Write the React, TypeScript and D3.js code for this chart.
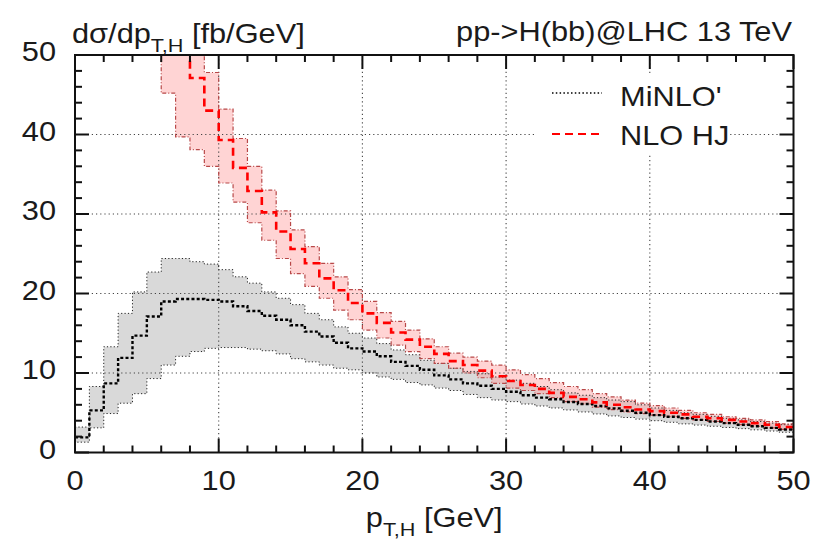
import React from "react";
import * as d3 from "d3";

// ---------- data (1 GeV bins, value = bin start) ----------
const MINLO_BIN_START = 0;
const MINLO_CENTRAL = [1.9,5.3,8.7,11.9,14.7,17.1,19.0,19.3,19.3,19.2,19.0,18.4,17.8,17.2,16.7,16.0,15.2,14.6,13.8,13.1,12.7,12.1,11.4,10.9,10.4,9.7,9.2,8.7,8.4,8.0,7.65,7.2,6.9,6.7,6.35,6.1,5.85,5.55,5.25,5.0,4.7,4.5,4.3,4.1,3.9,3.7,3.5,3.3,3.1,2.9];
const MINLO_UPPER = [3.2,8.3,13.3,17.5,20.2,22.7,24.4,24.4,24.0,23.7,23.0,22.1,21.3,20.2,19.4,18.6,17.5,16.7,15.8,15.0,14.4,13.7,12.9,12.3,11.6,11.2,10.6,10.2,9.9,9.5,9.1,8.7,8.3,7.9,7.5,7.2,6.9,6.6,6.4,6.0,5.6,5.3,5.0,4.8,4.55,4.3,4.1,3.9,3.7,3.5];
const MINLO_LOWER = [1.3,3.1,4.9,6.2,7.4,9.3,11.0,12.1,12.7,13.1,13.2,13.2,13.0,12.8,12.4,11.8,11.4,11.0,10.6,10.4,10.0,9.5,9.2,8.8,8.5,8.1,7.8,7.3,6.9,6.6,6.4,6.1,5.85,5.6,5.35,5.1,4.85,4.6,4.4,4.2,4.0,3.8,3.6,3.45,3.3,3.15,3.0,2.85,2.7,2.55];

const HJ_BIN_START = 6;
const HJ_CENTRAL = [62,54,47.1,43.0,39.3,35.8,32.9,30.2,27.8,25.6,23.8,21.9,20.4,18.8,17.5,16.3,15.1,14.2,13.3,12.4,11.5,11.0,10.3,9.6,9.0,8.5,8.0,7.5,7.0,6.7,6.3,6.0,5.7,5.4,5.2,5.0,4.8,4.5,4.3,4.1,3.9,3.7,3.5,3.2];
const HJ_UPPER = [75,66,56,47.8,43.2,39.5,36.0,33.0,30.4,28.0,25.9,23.8,22.1,20.5,19.0,17.6,16.5,15.4,14.3,13.3,12.5,12.0,11.5,11.0,10.4,9.8,9.3,8.8,8.3,7.9,7.4,7.0,6.6,6.2,5.9,5.6,5.3,5.0,4.8,4.5,4.3,4.1,3.9,3.6];
const HJ_LOWER = [45.2,39.7,38.1,36.0,33.9,31.5,28.9,26.7,24.4,22.5,20.9,19.4,17.9,16.7,15.4,14.4,13.5,12.7,11.8,11.2,10.6,10.0,9.4,8.7,8.1,7.8,7.4,6.9,6.4,6.1,5.7,5.4,5.1,4.9,4.7,4.5,4.3,4.1,3.9,3.7,3.5,3.3,3.1,2.9];

const BIN_WIDTH = 1;
const X_MAJOR = [0, 10, 20, 30, 40, 50];
const Y_MAJOR = [0, 10, 20, 30, 40, 50];
const X_MINOR = [2,4,6,8,12,14,16,18,22,24,26,28,32,34,36,38,42,44,46,48];
const Y_MINOR = [2,4,6,8,12,14,16,18,22,24,26,28,32,34,36,38,42,44,46,48];
const GRID = [10, 20, 30, 40];

const SERIES_NAMES = ["MiNLO'", "NLO HJ"];

// ---------- layout ----------
const W = 813, H = 542;
const L = 75, R = 793.5, T = 55, B = 452.5;
const FONT = "'Liberation Sans', Arial, Helvetica, sans-serif";
const FS = 27;
const SX = 1.14;

const x = d3.scaleLinear().domain([0, 50]).range([L, R]);
const y = d3.scaleLinear().domain([0, 50]).range([B, T]);

type Bin = { x0: number; x1: number; c: number; u: number; l: number };
function makeBins(start: number, c: number[], u: number[], l: number[]): Bin[] {
  return c.map((v, i) => ({
    x0: start + i * BIN_WIDTH,
    x1: start + (i + 1) * BIN_WIDTH,
    c: v,
    u: u[i],
    l: l[i],
  }));
}
const minloBins = makeBins(MINLO_BIN_START, MINLO_CENTRAL, MINLO_UPPER, MINLO_LOWER);
const hjBins = makeBins(HJ_BIN_START, HJ_CENTRAL, HJ_UPPER, HJ_LOWER);

const polyLine = d3
  .line<[number, number]>()
  .x((d) => x(d[0]))
  .y((d) => y(d[1]));

const stepLine = d3
  .line<[number, number]>()
  .x((d) => x(d[0]))
  .y((d) => y(d[1]))
  .curve(d3.curveStepAfter);

function stepPath(bins: Bin[]): string {
  const pts: [number, number][] = bins.map((b) => [b.x0, b.c]);
  const last = bins[bins.length - 1];
  pts.push([last.x1, last.c]);
  return stepLine(pts) || "";
}

function bandPath(bins: Bin[]): string {
  const pts: [number, number][] = [];
  bins.forEach((b) => {
    pts.push([b.x0, b.u]);
    pts.push([b.x1, b.u]);
  });
  for (let i = bins.length - 1; i >= 0; i--) {
    const b = bins[i];
    pts.push([b.x1, b.l]);
    pts.push([b.x0, b.l]);
  }
  return (polyLine(pts) || "") + "Z";
}

function Txt(props: { x: number; y: number; anchor?: string; size?: number; children: React.ReactNode }) {
  return (
    <text
      transform={`translate(${props.x},${props.y}) scale(${SX},1)`}
      textAnchor={props.anchor || "start"}
      fontFamily={FONT}
      fontSize={props.size || FS}
      fill="#1a1a1a"
    >
      {props.children}
    </text>
  );
}

export default function App() {
  const minloBand = bandPath(minloBins);
  const hjBand = bandPath(hjBins);

  return (
    <svg
      width={W}
      height={H}
      viewBox={`0 0 ${W} ${H}`}
      style={{ position: "absolute", left: 0, top: 0, background: "#fff" }}
    >
      <defs>
        <clipPath id="plotclip">
          <rect x={L} y={T} width={R - L} height={B - T} />
        </clipPath>
      </defs>
      <rect x={0} y={0} width={W} height={H} fill="#fff" />

      <g clipPath="url(#plotclip)">
        <path d={minloBand} fill="#d9d9d9" stroke="none" />
        <path d={hjBand} fill="rgba(255,160,160,0.45)" stroke="none" />

        {/* grid */}
        {GRID.map((g) => (
          <line key={"gx" + g} x1={x(g)} x2={x(g)} y1={T} y2={B} stroke="#444" strokeWidth={1.1} strokeDasharray="1.2,3" />
        ))}
        {GRID.map((g) => (
          <line key={"gy" + g} x1={L} x2={R} y1={y(g)} y2={y(g)} stroke="#444" strokeWidth={1.1} strokeDasharray="1.2,3" />
        ))}

        <path d={minloBand} fill="none" stroke="#222" strokeWidth={1} strokeDasharray="1.2,2.2" />
        <path d={hjBand} fill="none" stroke="#b84848" strokeWidth={1.2} strokeDasharray="4,2,1,2" />

        <path d={stepPath(minloBins)} fill="none" stroke="#000" strokeWidth={2.4} strokeDasharray="3,2.2" />
        <path d={stepPath(hjBins)} fill="none" stroke="#ff0000" strokeWidth={2.6} strokeDasharray="8,5" />
      </g>

      {/* legend background */}
      <rect x={536} y={76} width={192} height={77} fill="#fff" />
      <line x1={552} x2={602} y1={93} y2={93} stroke="#000" strokeWidth={1.5} strokeDasharray="1.5,2.3" />
      <line x1={552} x2={602} y1={134} y2={134} stroke="#ff0000" strokeWidth={2} strokeDasharray="8,5" />
      <Txt x={620} y={106}>{SERIES_NAMES[0]}</Txt>
      <Txt x={620} y={145}>{SERIES_NAMES[1]}</Txt>

      {/* ticks */}
      <g stroke="#111" strokeWidth={2}>
        {X_MAJOR.map((t) => (
          <g key={"xM" + t}>
            <line x1={x(t)} x2={x(t)} y1={B} y2={B - 14} />
            <line x1={x(t)} x2={x(t)} y1={T} y2={T + 14} />
          </g>
        ))}
        {X_MINOR.map((t) => (
          <g key={"xm" + t}>
            <line x1={x(t)} x2={x(t)} y1={B} y2={B - 7} />
            <line x1={x(t)} x2={x(t)} y1={T} y2={T + 7} />
          </g>
        ))}
        {Y_MAJOR.map((t) => (
          <g key={"yM" + t}>
            <line x1={L} x2={L + 14} y1={y(t)} y2={y(t)} />
            <line x1={R} x2={R - 14} y1={y(t)} y2={y(t)} />
          </g>
        ))}
        {Y_MINOR.map((t) => (
          <g key={"ym" + t}>
            <line x1={L} x2={L + 7} y1={y(t)} y2={y(t)} />
            <line x1={R} x2={R - 7} y1={y(t)} y2={y(t)} />
          </g>
        ))}
      </g>

      {/* frame */}
      <rect x={L} y={T} width={R - L} height={B - T} fill="none" stroke="#111" strokeWidth={2} />

      {/* tick labels */}
      {X_MAJOR.map((t) => (
        <Txt key={"xl" + t} x={x(t)} y={490} anchor="middle">{String(t)}</Txt>
      ))}
      {Y_MAJOR.map((t) => (
        <Txt key={"yl" + t} x={56} y={y(t) + 6} anchor="end">{String(t)}</Txt>
      ))}

      {/* titles */}
      <Txt x={72} y={43}>
        dσ/dp
        <tspan fontSize={19} dy={9}>T,H</tspan>
        <tspan fontSize={FS} dy={-9}> [fb/GeV]</tspan>
      </Txt>
      <Txt x={792} y={41} anchor="end">pp-&gt;H(bb)@LHC 13 TeV</Txt>
      <Txt x={(L + R) / 2} y={527} anchor="middle">
        p
        <tspan fontSize={19} dy={9}>T,H</tspan>
        <tspan fontSize={FS} dy={-9}> [GeV]</tspan>
      </Txt>
    </svg>
  );
}
